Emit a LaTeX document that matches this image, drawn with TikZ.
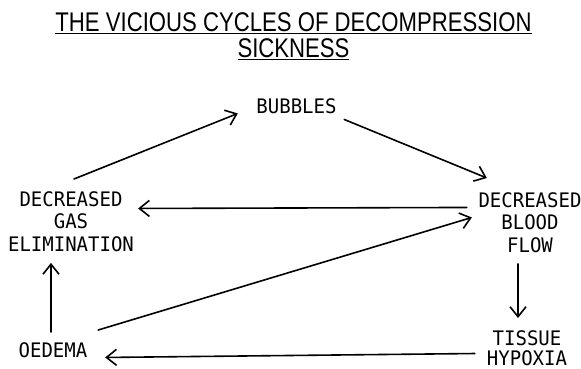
\documentclass[tikz,border=0pt]{standalone}
\usepackage{fontspec}
\setmainfont{Liberation Sans}
\newfontfamily\titlefont[FakeStretch=0.82]{Liberation Sans}
\newfontfamily\lblfont[FakeStretch=0.95]{DejaVu Sans Mono}
\usetikzlibrary{arrows.meta}
\begin{document}
\begin{tikzpicture}[x=1pt,y=-1pt,
  titlestyle/.style={font={\titlefont\fontsize{27}{26}\selectfont}, align=center, inner sep=0pt, anchor=north},
  lbl/.style={font={\lblfont\fontsize{20}{22.5}\selectfont}, align=center, inner sep=0pt, anchor=north},
  arr/.style={-{Straight Barb[length=10pt,width=16pt]}, line width=1.6pt, line cap=round}]
\useasboundingbox (0,0) rectangle (581,369);

\node[titlestyle] (title) at (293.5,12) {\underline{THE VICIOUS CYCLES OF DECOMPRESSION}\\\underline{SICKNESS}};

\node[lbl] (bub) at (296.5,98) {BUBBLES};
\node[lbl] (dge) at (71,191) {DECREASED\\GAS\\ELIMINATION};
\node[lbl] (dbf) at (530,192) {DECREASED\\BLOOD\\FLOW};
\node[lbl, font={\lblfont\fontsize{20}{20.5}\selectfont}] (tis) at (527,330) {TISSUE\\HYPOXIA};
\node[lbl] (oed) at (53,342) {OEDEMA};

\draw[arr] ([shift={(3,-12)}]dge.north) -- ([shift={(-18.5,7.7)}]bub.west);
\draw[arr] ([shift={(7.5,13.7)}]bub.east) -- ([shift={(8.5,-14)}]dbf.north west);
\draw[arr] ([shift={(-11.5,-14.8)}]dbf.west) -- ([shift={(4,-12.8)}]dge.east);
\draw[arr] ([shift={(10.7,-12)}]oed.north east) -- ([shift={(-6.5,-4.8)}]dbf.west);
\draw[arr] ([shift={(-12,11.4)}]dbf.south) -- ([shift={(-9,-12)}]tis.north);
\draw[arr] ([shift={(-12,5.5)}]tis.west) -- ([shift={(17.7,7.7)}]oed.east);
\draw[arr] ([shift={(-2,-10)}]oed.north) -- ([shift={(-20,11.4)}]dge.south);
\end{tikzpicture}
\end{document}
